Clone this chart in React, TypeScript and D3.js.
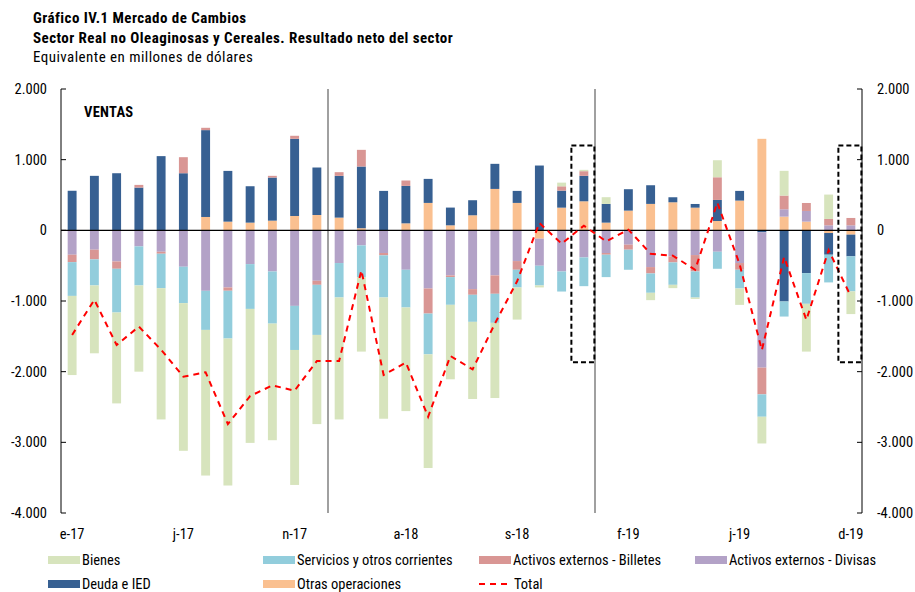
import React from 'react'
import * as d3 from 'd3'

// months Jan-17 .. Dec-19
const months = [
  'ene-17', 'feb-17', 'mar-17', 'abr-17', 'may-17', 'jun-17', 'jul-17', 'ago-17', 'sep-17', 'oct-17', 'nov-17', 'dic-17',
  'ene-18', 'feb-18', 'mar-18', 'abr-18', 'may-18', 'jun-18', 'jul-18', 'ago-18', 'sep-18', 'oct-18', 'nov-18', 'dic-18',
  'ene-19', 'feb-19', 'mar-19', 'abr-19', 'may-19', 'jun-19', 'jul-19', 'ago-19', 'sep-19', 'oct-19', 'nov-19', 'dic-19',
]
const tickMonths = ['ene-17', 'jun-17', 'nov-17', 'abr-18', 'sep-18', 'feb-19', 'jul-19', 'dic-19']
const tickLabels = ['e-17', 'j-17', 'n-17', 'a-18', 's-18', 'f-19', 'j-19', 'd-19']
const yTicks = [2000, 1000, 0, -1000, -2000, -3000, -4000]
const separatorMonths = ['ene-18', 'ene-19']
const boxedMonths = ['dic-18', 'dic-19']

const bienes = [
  -1120, -960, -1286, -1220, -1858, -2090, -2061, -2080, -1896, -1650, -1910, -1262,
  -1726, -1054, -1716, -1466, -1608, -1054, -1092, -1064, -454, -28, 52, 19,
  95, 0, -104, -47, -19, 241, -232, -378, 350, -676, 345, -321,
]
const servicios = [
  -478, -369, -619, -553, -487, -515, -553, -676, -634, -738, -624, -709,
  -487, -449, -596, -534, -577, -392, -383, -411, -251, -279, -284, -407,
  -317, -284, -274, -317, -369, -241, -265, -317, -213, -435, -392, -496,
]
const billetes = [
  -105, -137, -104, 38, -28, 227, 33, -47, 0, 24, 43, -57,
  52, 236, -33, 76, -355, -24, -80, -260, -123, 0, 61, 66,
  -24, -71, -90, -85, -232, 321, -95, -378, 194, 113, 90, 104,
]
const divisas = [
  -345, -274, -440, -227, -303, -515, -856, -808, -478, -582, -1069, -714,
  -463, -213, -321, -558, -823, -638, -832, -638, -435, -383, -582, -383,
  -321, -203, -520, -369, -350, -303, -463, -1915, 104, 151, 71, 71,
]
const deuda = [
  560, 771, 808, 605, 1050, 808, 1229, 718, 515, 610, 1092, 672,
  591, 873, 558, 530, 340, 251, 213, 355, 170, 917, 241, 360,
  265, 303, 264, 71, 52, 298, 137, -28, -1007, -605, -307, -307,
]
const otras = [
  0, 0, 0, 0, 0, 0, 189, 123, 109, 137, 203, 217,
  180, 30, 0, 99, 388, 71, 213, 586, 388, -118, 321, 411,
  109, 279, 374, 397, 321, 132, 421, 1295, 194, 123, -38, -61,
]
const total = [
  -1480, -983, -1622, -1362, -1690, -2071, -2009, -2742, -2345, -2194, -2269, -1849,
  -1849, -567, -2047, -1872, -2638, -1778, -1967, -1320, -720, 104, -189, 66,
  -156, 10, -331, -359, -558, 392, -480, -1693, -378, -1267, -280, -936,
]

const series = [
  { key: 'bienes', name: 'Bienes', values: bienes, color: '#d7e4bd' },
  { key: 'servicios', name: 'Servicios y otros corrientes', values: servicios, color: '#92cddc' },
  { key: 'billetes', name: 'Activos externos - Billetes', values: billetes, color: '#d99694' },
  { key: 'divisas', name: 'Activos externos - Divisas', values: divisas, color: '#b3a2c7' },
  { key: 'deuda', name: 'Deuda e IED', values: deuda, color: '#376092' },
  { key: 'otras', name: 'Otras operaciones', values: otras, color: '#fac090' },
]
// stacking order from zero outwards
const stackOrder = ['otras', 'deuda', 'divisas', 'billetes', 'servicios', 'bienes']

const W = 915
const H = 592
const left = 61
const right = 862
const top = 89
const bottom = 513
const font = '"Liberation Sans Narrow", "Roboto Condensed", "Arial Narrow", sans-serif'

const fmt = (v: number) => {
  if (v === 0) return '0'
  const s = Math.abs(v).toString().replace(/\B(?=(\d{3})+(?!\d))/g, '.')
  return (v < 0 ? '-' : '') + s
}

export default function App() {
  const x = d3.scaleBand<string>().domain(months).range([left, right]).paddingInner(0.6).paddingOuter(0.3)
  const y = d3.scaleLinear().domain([-4000, 2000]).range([bottom, top])
  const step = x.step()
  const cx = (m: string) => (x(m) ?? 0) + x.bandwidth() / 2

  const rows = months.map((m, i) => {
    const r: any = { month: m }
    series.forEach((s) => (r[s.key] = s.values[i]))
    return r
  })
  const stacked = d3.stack<any>().keys(stackOrder).offset(d3.stackOffsetDiverging)(rows)
  const colorOf = (k: string) => series.find((s) => s.key === k)!.color

  const line = d3
    .line<number>()
    .x((_, i) => cx(months[i]))
    .y((d) => y(d))

  // legend layout: two rows
  const row1 = 560
  const row2 = 584
  const legendItems = [
    { name: 'Bienes', color: '#d7e4bd', x: 48, y: row1 },
    { name: 'Servicios y otros corrientes', color: '#92cddc', x: 263, y: row1 },
    { name: 'Activos externos - Billetes', color: '#d99694', x: 479, y: row1 },
    { name: 'Activos externos - Divisas', color: '#b3a2c7', x: 695, y: row1 },
    { name: 'Deuda e IED', color: '#376092', x: 48, y: row2 },
    { name: 'Otras operaciones', color: '#fac090', x: 263, y: row2 },
  ]

  return (
    <svg width={W} height={H} style={{ position: 'absolute', left: 0, top: 0, fontFamily: font }}>
      <rect width={W} height={H} fill="#fff" />
      <g fontSize={15} letterSpacing={0.45} fill="#000">
        <text x={33} y={23} fontWeight="bold">Gráfico IV.1 Mercado de Cambios</text>
        <text x={33} y={43} fontWeight="bold">Sector Real no Oleaginosas y Cereales. Resultado neto del sector</text>
        <text x={33} y={62}>Equivalente en millones de dólares</text>
      </g>

      {/* bars */}
      {stacked.map((layer) => (
        <g key={layer.key} fill={colorOf(layer.key)}>
          {layer.map((d, i) => {
            const y0 = y(d[0])
            const y1 = y(d[1])
            if (Math.abs(y0 - y1) < 0.01) return null
            return (
              <rect
                key={i}
                x={x(months[i])}
                y={Math.min(y0, y1)}
                width={x.bandwidth()}
                height={Math.abs(y0 - y1)}
              />
            )
          })}
        </g>
      ))}

      {/* separators */}
      {separatorMonths.map((m) => (
        <line key={m} x1={cx(m) - step / 2} x2={cx(m) - step / 2} y1={top} y2={bottom} stroke="#808080" strokeWidth={1.5} />
      ))}

      {/* zero line */}
      <line x1={left} x2={right} y1={y(0)} y2={y(0)} stroke="#000" strokeWidth={1.2} />

      {/* total */}
      <path d={line(total) ?? ''} fill="none" stroke="#ff0000" strokeWidth={2} strokeDasharray="6 5" />

      {/* highlight boxes */}
      {boxedMonths.map((m) => (
        <rect
          key={m}
          x={cx(m) - 12.5}
          y={y(1200)}
          width={23}
          height={y(-1865) - y(1200)}
          fill="none"
          stroke="#000"
          strokeWidth={2}
          strokeDasharray="5 3"
        />
      ))}

      {/* left axis */}
      <line x1={left} x2={left} y1={top} y2={bottom} stroke="#000" />
      {yTicks.map((t) => (
        <g key={'l' + t}>
          <line x1={left} x2={left + 5} y1={y(t)} y2={y(t)} stroke="#000" />
          <text x={47} y={y(t)} dy="0.35em" textAnchor="end" fontSize={14.5} fill="#000">{fmt(t)}</text>
        </g>
      ))}
      {/* right axis */}
      <line x1={right} x2={right} y1={top} y2={bottom} stroke="#000" />
      {yTicks.map((t) => (
        <g key={'r' + t}>
          <line x1={right - 5} x2={right} y1={y(t)} y2={y(t)} stroke="#000" />
          <text x={877} y={y(t)} dy="0.35em" textAnchor="start" fontSize={14.5} fill="#000">{fmt(t)}</text>
        </g>
      ))}

      {/* x labels */}
      {tickMonths.map((m, i) => (
        <text key={m} x={cx(m)} y={539} textAnchor="middle" fontSize={14.5} fill="#000">{tickLabels[i]}</text>
      ))}

      <text x={84} y={117} fontSize={14.5} fontWeight="bold" letterSpacing={0.3} fill="#000">VENTAS</text>

      {/* legend */}
      {legendItems.map((it) => (
        <g key={it.name}>
          <rect x={it.x} y={it.y - 4} width={32} height={8} fill={it.color} />
          <text x={it.x + 34} y={it.y + 5} fontSize={14.5} fill="#000">{it.name}</text>
        </g>
      ))}
      <line x1={479} x2={512} y1={row2} y2={row2} stroke="#ff0000" strokeWidth={2} strokeDasharray="6 5" />
      <text x={514} y={row2 + 5} fontSize={14.5} fill="#000">Total</text>
    </svg>
  )
}
